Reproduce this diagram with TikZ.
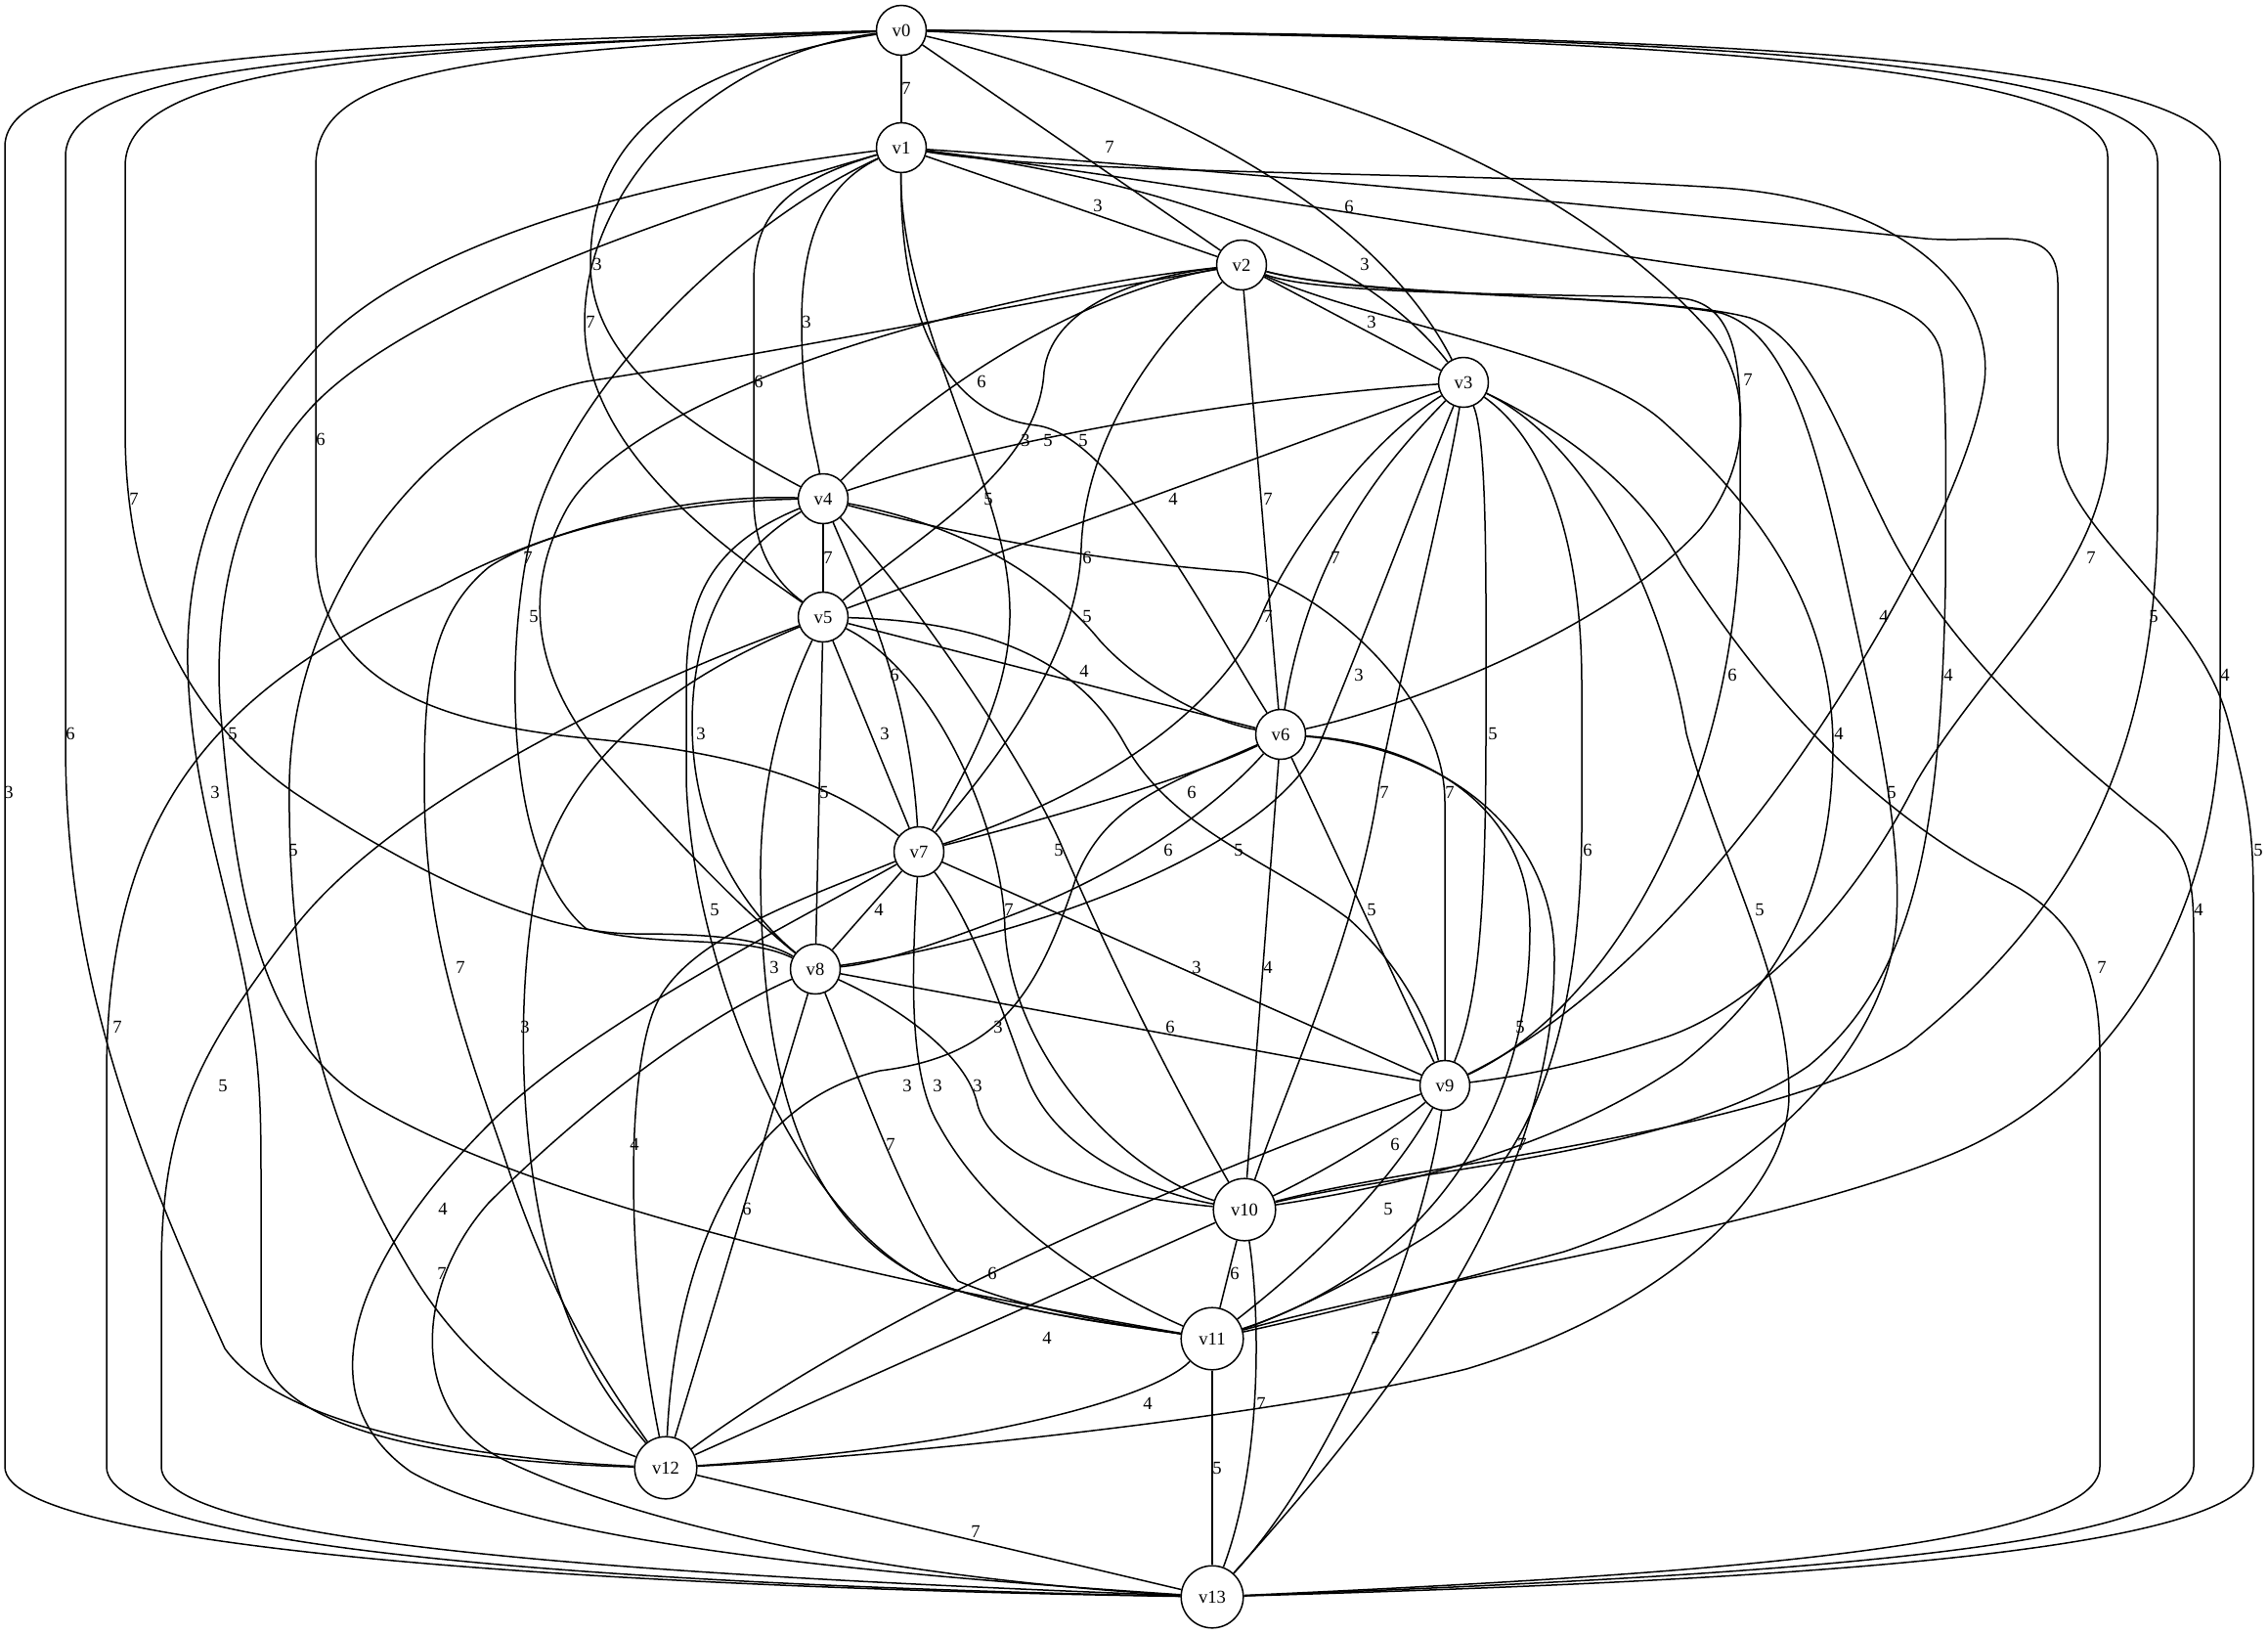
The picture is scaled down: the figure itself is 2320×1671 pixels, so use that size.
\documentclass[tikz,border=0pt]{standalone}
\usepackage{fontspec}
\setmainfont{Liberation Serif}
\newcommand\gvf{\fontsize{9.3}{11}\selectfont}
\begin{document}
\begin{tikzpicture}[x=0.5pt,y=-0.5pt,
 vtx/.style={circle,draw,line width=0.75pt,minimum size=25.5pt,inner sep=0pt,font=\gvf},
 vtxb/.style={vtx,minimum size=31.8pt},
 edge/.style={line width=0.75pt,line join=round},
 elab/.style={inner sep=0pt,font=\gvf}]
\useasboundingbox (0,0) rectangle (2320,1671);
\fill[white] (0,0) rectangle (2320,1671);
% nodes
\node[vtx] (v0) at (922,31) {v0};
\node[vtx] (v1) at (922,151) {v1};
\node[vtx] (v2) at (1270,271) {v2};
\node[vtx] (v3) at (1497,391) {v3};
\node[vtx] (v4) at (842,510) {v4};
\node[vtx] (v5) at (842,631) {v5};
\node[vtx] (v6) at (1310,751) {v6};
\node[vtx] (v7) at (940,871) {v7};
\node[vtx] (v8) at (834,991) {v8};
\node[vtx] (v9) at (1478,1110) {v9};
\node[vtxb] (v10) at (1273,1237) {v10};
\node[vtxb] (v11) at (1240,1369) {v11};
\node[vtxb] (v12) at (681,1501) {v12};
\node[vtxb] (v13) at (1240,1633) {v13};
% v0
\draw[edge] (v0) -- (v1);
\draw[edge] (v0) -- (v2);
\draw[edge] (v0) .. controls (1150,85) and (1400,200) .. (v3);
\draw[edge] (v0) .. controls (680,70) and (604,150) .. (604,270) .. controls (604,370) and (710,440) .. (v4);
\draw[edge] (v0) .. controls (730,55) and (598,190) .. (598,330) .. controls (598,460) and (740,560) .. (v5);
\draw[edge] (v0) .. controls (1300,45) and (1600,170) .. (1750,340) .. controls (1790,390) and (1795,470) .. (1740,540) .. controls (1650,640) and (1450,720) .. (v6);
\draw[edge] (v0) .. controls (480,55) and (323,70) .. (323,170) -- (323,560) .. controls (323,700) and (450,740) .. (600,755) .. controls (760,770) and (850,800) .. (v7);
\draw[edge] (v0) .. controls (400,50) and (128,65) .. (128,170) -- (128,440) .. controls (128,620) and (200,740) .. (300,810) .. controls (420,890) and (550,955) .. (650,955) .. controls (730,955) and (780,960) .. (v8);
\draw[edge] (v0) .. controls (1500,35) and (2156,50) .. (2156,160) -- (2156,450) .. controls (2156,580) and (2030,680) .. (1960,800) .. controls (1900,920) and (1800,1030) .. (1700,1062) .. controls (1620,1088) and (1560,1100) .. (v9);
\draw[edge] (v0) .. controls (1600,35) and (2207,50) .. (2207,165) -- (2207,520) .. controls (2207,800) and (2100,950) .. (1950,1070) .. controls (1800,1160) and (1450,1190) .. (v10);
\draw[edge] (v0) .. controls (1650,35) and (2271,50) .. (2271,165) -- (2271,720) .. controls (2271,950) and (2150,1120) .. (1990,1183) .. controls (1800,1260) and (1450,1310) .. (v11);
\draw[edge] (v0) .. controls (400,50) and (67,60) .. (67,160) -- (67,760) .. controls (67,1000) and (140,1180) .. (230,1379) .. controls (280,1450) and (450,1490) .. (v12);
\draw[edge] (v0) .. controls (350,45) and (5,55) .. (5,150) -- (5,1500) .. controls (5,1590) and (700,1625) .. (v13);
% v1
\draw[edge] (v1) -- (v2);
\draw[edge] (v1) .. controls (1150,180) and (1380,240) .. (v3);
\draw[edge] (v1) .. controls (840,190) and (820,250) .. (820,330) .. controls (820,420) and (835,460) .. (v4);
\draw[edge] (v1) .. controls (790,190) and (771,230) .. (771,290) -- (771,510) .. controls (771,570) and (800,600) .. (v5);
\draw[edge] (v1) .. controls (920,330) and (970,425) .. (1060,435) .. controls (1140,445) and (1240,640) .. (v6);
\draw[edge] (v1) .. controls (920,300) and (1000,450) .. (1025,560) .. controls (1045,650) and (1030,720) .. (v7);
\draw[edge] (v1) .. controls (750,230) and (580,400) .. (545,540) .. controls (515,660) and (515,880) .. (600,950) .. controls (680,970) and (760,955) .. (v8);
\draw[edge] (v1) .. controls (1100,180) and (1500,175) .. (1760,192) .. controls (1950,205) and (2040,300) .. (2030,390) .. controls (2015,500) and (1900,700) .. (1800,830) .. controls (1700,960) and (1600,1050) .. (v9);
\draw[edge] (v1) .. controls (1200,185) and (1600,255) .. (1760,276) .. controls (1900,295) and (1982,310) .. (1987,370) .. controls (1992,430) and (1990,500) .. (1990,600) .. controls (1985,850) and (1960,1000) .. (1850,1090) .. controls (1720,1180) and (1450,1195) .. (v10);
\draw[edge] (v1) .. controls (700,215) and (420,310) .. (320,415) .. controls (250,490) and (218,600) .. (225,720) .. controls (240,900) and (260,1060) .. (380,1130) .. controls (550,1230) and (900,1310) .. (v11);
\draw[edge] (v1) .. controls (650,185) and (420,250) .. (320,360) .. controls (230,460) and (190,560) .. (192,680) .. controls (195,800) and (230,900) .. (250,1000) .. controls (265,1080) and (267,1120) .. (267,1200) -- (267,1370) .. controls (267,1460) and (450,1495) .. (v12);
\draw[edge] (v1) .. controls (1200,170) and (1700,215) .. (1969,244) .. controls (2040,250) and (2105,225) .. (2105,290) -- (2105,450) .. controls (2105,540) and (2250,620) .. (2280,740) .. controls (2300,820) and (2305,850) .. (2305,920) -- (2305,1500) .. controls (2305,1590) and (1800,1617) .. (v13);
% v2
\draw[edge] (v2) -- (v3);
\draw[edge] (v2) .. controls (1100,300) and (950,400) .. (v4);
\draw[edge] (v2) .. controls (1150,285) and (1075,320) .. (1068,380) .. controls (1062,480) and (950,540) .. (v5);
\draw[edge] (v2) -- (v6);
\draw[edge] (v2) .. controls (1180,350) and (1110,450) .. (1106,560) .. controls (1103,680) and (1000,800) .. (v7);
\draw[edge] (v2) .. controls (1000,300) and (650,400) .. (580,520) .. controls (530,610) and (550,700) .. (620,780) .. controls (700,870) and (770,940) .. (v8);
\draw[edge] (v2) .. controls (1350,303) and (1600,300) .. (1720,305) .. controls (1770,310) and (1780,360) .. (1780,430) -- (1780,520) .. controls (1780,800) and (1650,1030) .. (v9);
\draw[edge] (v2) .. controls (1400,330) and (1620,360) .. (1700,430) .. controls (1800,520) and (1873,620) .. (1875,760) .. controls (1875,900) and (1830,1000) .. (1720,1088) .. controls (1600,1170) and (1450,1210) .. (v10);
\draw[edge] (v2) .. controls (1400,305) and (1650,300) .. (1760,320) .. controls (1830,340) and (1860,460) .. (1890,600) .. controls (1920,740) and (1945,850) .. (1940,940) .. controls (1930,1100) and (1750,1230) .. (1600,1280) .. controls (1450,1320) and (1350,1345) .. (v11);
\draw[edge] (v2) .. controls (1100,300) and (800,360) .. (600,390) .. controls (450,420) and (300,600) .. (296,800) .. controls (294,1000) and (330,1150) .. (420,1300) .. controls (480,1400) and (570,1460) .. (v12);
\draw[edge] (v2) .. controls (1400,305) and (1700,300) .. (1790,325) .. controls (1850,345) and (1880,440) .. (1930,540) .. controls (1990,660) and (2100,760) .. (2200,840) .. controls (2240,870) and (2244,900) .. (2244,960) -- (2244,1500) .. controls (2244,1585) and (1800,1612) .. (v13);
% v3
\draw[edge] (v3) .. controls (1300,405) and (1050,440) .. (v4);
\draw[edge] (v3) -- (v5);
\draw[edge] (v3) .. controls (1420,470) and (1340,560) .. (v6);
\draw[edge] (v3) .. controls (1400,450) and (1320,560) .. (1290,630) .. controls (1240,740) and (1100,820) .. (v7);
\draw[edge] (v3) .. controls (1460,480) and (1400,640) .. (1350,760) .. controls (1300,870) and (1050,960) .. (v8);
\draw[edge] (v3) .. controls (1522,450) and (1520,600) .. (1520,750) .. controls (1520,950) and (1510,1030) .. (v9);
\draw[edge] (v3) .. controls (1480,500) and (1430,700) .. (1411,800) .. controls (1390,950) and (1320,1100) .. (v10);
\draw[edge] (v3) .. controls (1580,450) and (1618,550) .. (1618,700) -- (1618,850) .. controls (1616,1050) and (1570,1200) .. (1450,1270) .. controls (1370,1320) and (1300,1350) .. (v11);
\draw[edge] (v3) .. controls (1620,450) and (1700,600) .. (1725,750) .. controls (1760,880) and (1830,1000) .. (1830,1120) .. controls (1830,1220) and (1700,1340) .. (1500,1400) .. controls (1300,1450) and (900,1490) .. (v12);
\draw[edge] (v3) .. controls (1600,440) and (1680,500) .. (1720,577) .. controls (1800,700) and (1900,820) .. (2050,900) .. controls (2130,940) and (2148,1000) .. (2148,1080) -- (2148,1500) .. controls (2148,1585) and (1700,1612) .. (v13);
% v4
\draw[edge] (v4) -- (v5);
\draw[edge] (v4) .. controls (1000,540) and (1080,600) .. (1125,655) .. controls (1170,705) and (1240,738) .. (v6);
\draw[edge] (v4) .. controls (880,600) and (930,700) .. (v7);
\draw[edge] (v4) .. controls (740,570) and (708,650) .. (708,740) .. controls (708,850) and (760,930) .. (v8);
\draw[edge] (v4) .. controls (1050,565) and (1200,580) .. (1270,585) .. controls (1330,590) and (1478,700) .. (1478,820) -- (v9);
\draw[edge] (v4) .. controls (950,630) and (1060,800) .. (1088,870) .. controls (1140,990) and (1200,1110) .. (v10);
\draw[edge] (v4) .. controls (720,560) and (702,620) .. (702,700) -- (702,800) .. controls (710,1000) and (820,1250) .. (950,1310) .. controls (1050,1345) and (1150,1355) .. (v11);
\draw[edge] (v4) .. controls (700,512) and (560,540) .. (500,580) .. controls (440,630) and (434,700) .. (434,800) .. controls (434,950) and (470,1050) .. (515,1180) .. controls (560,1320) and (610,1400) .. (v12);
\draw[edge] (v4) .. controls (700,505) and (560,540) .. (450,600) .. controls (230,700) and (109,820) .. (109,1100) -- (109,1500) .. controls (109,1590) and (700,1622) .. (v13);
% v5
\draw[edge] (v5) -- (v6);
\draw[edge] (v5) -- (v7);
\draw[edge] (v5) -- (v8);
\draw[edge] (v5) .. controls (1000,635) and (1100,670) .. (1150,760) .. controls (1200,850) and (1300,880) .. (1380,940) .. controls (1430,985) and (1460,1040) .. (v9);
\draw[edge] (v5) .. controls (960,690) and (1026,850) .. (1028,950) .. controls (1035,1080) and (1150,1200) .. (v10);
\draw[edge] (v5) .. controls (800,720) and (777,800) .. (778,900) .. controls (780,1100) and (820,1250) .. (950,1310) .. controls (1050,1345) and (1150,1355) .. (v11);
\draw[edge] (v5) .. controls (700,690) and (580,770) .. (550,900) .. controls (530,1000) and (528,1150) .. (560,1280) .. controls (590,1400) and (640,1450) .. (v12);
\draw[edge] (v5) .. controls (650,700) and (400,820) .. (300,950) .. controls (200,1080) and (165,1150) .. (165,1300) -- (165,1500) .. controls (165,1582) and (700,1612) .. (v13);
% v6
\draw[edge] (v6) .. controls (1230,790) and (1100,830) .. (v7);
\draw[edge] (v6) .. controls (1240,830) and (1150,890) .. (1050,930) .. controls (960,965) and (900,985) .. (v8);
\draw[edge] (v6) -- (v9);
\draw[edge] (v6) -- (v10);
\draw[edge] (v6) .. controls (1450,760) and (1565,820) .. (1565,950) .. controls (1565,1150) and (1450,1300) .. (v11);
\draw[edge] (v6) .. controls (1200,800) and (1130,820) .. (1100,900) .. controls (1060,1020) and (1020,1080) .. (900,1095) .. controls (750,1130) and (690,1300) .. (v12);
\draw[edge] (v6) .. controls (1480,765) and (1590,850) .. (1590,980) .. controls (1590,1200) and (1450,1400) .. (v13);
% v7
\draw[edge] (v7) -- (v8);
\draw[edge] (v7) -- (v9);
\draw[edge] (v7) .. controls (1000,950) and (1030,1050) .. (1050,1100) .. controls (1080,1180) and (1180,1220) .. (v10);
\draw[edge] (v7) .. controls (932,1000) and (930,1100) .. (960,1150) .. controls (1020,1260) and (1150,1330) .. (v11);
\draw[edge] (v7) .. controls (820,920) and (700,960) .. (670,1030) .. controls (640,1100) and (640,1300) .. (v12);
\draw[edge] (v7) .. controls (800,950) and (600,1050) .. (500,1150) .. controls (380,1270) and (300,1420) .. (420,1505) .. controls (550,1580) and (900,1610) .. (v13);
% v8
\draw[edge] (v8) -- (v9);
\draw[edge] (v8) .. controls (920,1030) and (990,1080) .. (1000,1130) .. controls (1020,1200) and (1150,1225) .. (v10);
\draw[edge] (v8) .. controls (870,1080) and (930,1250) .. (980,1310) .. controls (1050,1340) and (1150,1355) .. (v11);
\draw[edge] (v8) -- (v12);
\draw[edge] (v8) .. controls (720,1040) and (600,1130) .. (500,1230) .. controls (420,1320) and (420,1450) .. (520,1495) .. controls (700,1580) and (1000,1620) .. (v13);
% v9
\draw[edge] (v9) .. controls (1420,1160) and (1350,1200) .. (v10);
\draw[edge] (v9) .. controls (1440,1180) and (1380,1260) .. (v11);
\draw[edge] (v9) .. controls (1200,1210) and (900,1340) .. (v12);
\draw[edge] (v9) .. controls (1460,1250) and (1380,1480) .. (v13);
% v10 - v12
\draw[edge] (v10) -- (v11);
\draw[edge] (v10) -- (v12);
\draw[edge] (v10) .. controls (1290,1350) and (1290,1500) .. (v13);
\draw[edge] (v11) .. controls (1180,1430) and (1000,1480) .. (v12);
\draw[edge] (v11) -- (v13);
\draw[edge] (v12) -- (v13);
% labels
\node[elab] (l0x1) at (927,90) {7};
\node[elab] (l0x2) at (1135,150) {7};
\node[elab] (l0x3) at (1380,211) {6};
\node[elab] (l0x4) at (611,270) {3};
\node[elab] (l0x5) at (604,329) {7};
\node[elab] (l0x6) at (1788,388) {7};
\node[elab] (l0x7) at (328,449) {6};
\node[elab] (l0x8) at (137,510) {7};
\node[elab] (l0x9) at (2139,570) {7};
\node[elab] (l0x10) at (2203,630) {5};
\node[elab] (l0x11) at (2276,690) {4};
\node[elab] (l0x12) at (72,750) {6};
\node[elab] (l0x13) at (9,810) {3};
\node[elab] (l1x2) at (1123,210) {3};
\node[elab] (l1x3) at (1396,270) {3};
\node[elab] (l1x4) at (825,329) {3};
\node[elab] (l1x5) at (776,390) {6};
\node[elab] (l1x6) at (1108,450) {5};
\node[elab] (l1x7) at (1011,510) {5};
\node[elab] (l1x8) at (540,570) {7};
\node[elab] (l1x9) at (1927,630) {4};
\node[elab] (l1x10) at (1993,690) {4};
\node[elab] (l1x11) at (238,750) {5};
\node[elab] (l1x12) at (220,810) {3};
\node[elab] (l1x13) at (2310,869) {5};
\node[elab] (l2x3) at (1403,329) {3};
\node[elab] (l2x4) at (1004,390) {6};
\node[elab] (l2x5) at (1072,450) {5};
\node[elab] (l2x6) at (1297,510) {7};
\node[elab] (l2x7) at (1112,570) {6};
\node[elab] (l2x8) at (546,630) {5};
\node[elab] (l2x9) at (1772,690) {6};
\node[elab] (l2x10) at (1881,750) {4};
\node[elab] (l2x11) at (1935,810) {5};
\node[elab] (l2x12) at (300,869) {5};
\node[elab] (l2x13) at (2249,930) {4};
\node[elab] (l3x4) at (1049,450) {3};
\node[elab] (l3x5) at (1200,510) {4};
\node[elab] (l3x6) at (1366,570) {7};
\node[elab] (l3x7) at (1297,630) {7};
\node[elab] (l3x8) at (1390,690) {3};
\node[elab] (l3x9) at (1527,750) {5};
\node[elab] (l3x10) at (1416,810) {7};
\node[elab] (l3x11) at (1624,869) {6};
\node[elab] (l3x12) at (1800,930) {5};
\node[elab] (l3x13) at (2150,989) {7};
\node[elab] (l4x5) at (847,570) {7};
\node[elab] (l4x6) at (1112,630) {5};
\node[elab] (l4x7) at (915,690) {6};
\node[elab] (l4x8) at (717,750) {3};
\node[elab] (l4x9) at (1483,810) {7};
\node[elab] (l4x10) at (1083,869) {5};
\node[elab] (l4x11) at (731,930) {5};
\node[elab] (l4x12) at (471,989) {7};
\node[elab] (l4x13) at (120,1050) {7};
\node[elab] (l5x6) at (1109,686) {4};
\node[elab] (l5x7) at (905,750) {3};
\node[elab] (l5x8) at (843,810) {5};
\node[elab] (l5x9) at (1267,869) {5};
\node[elab] (l5x10) at (1032,930) {7};
\node[elab] (l5x11) at (792,989) {3};
\node[elab] (l5x12) at (537,1050) {3};
\node[elab] (l5x13) at (228,1110) {5};
\node[elab] (l6x7) at (1219,810) {6};
\node[elab] (l6x8) at (1195,869) {6};
\node[elab] (l6x9) at (1403,930) {5};
\node[elab] (l6x10) at (1297,989) {4};
\node[elab] (l6x11) at (1555,1050) {5};
\node[elab] (l6x12) at (928,1110) {3};
\node[elab] (l6x13) at (1557,1170) {7};
\node[elab] (l7x8) at (899,930) {4};
\node[elab] (l7x9) at (1224,989) {3};
\node[elab] (l7x10) at (1021,1050) {3};
\node[elab] (l7x11) at (959,1110) {3};
\node[elab] (l7x12) at (649,1170) {4};
\node[elab] (l7x13) at (453,1236) {4};
\node[elab] (l8x9) at (1197,1050) {6};
\node[elab] (l8x10) at (1000,1110) {3};
\node[elab] (l8x11) at (911,1170) {7};
\node[elab] (l8x12) at (764,1236) {6};
\node[elab] (l8x13) at (452,1302) {7};
\node[elab] (l9x10) at (1427,1170) {6};
\node[elab] (l9x11) at (1420,1236) {5};
\node[elab] (l9x12) at (1015,1302) {6};
\node[elab] (l9x13) at (1407,1368) {7};
\node[elab] (l10x11) at (1263,1302) {6};
\node[elab] (l10x12) at (1071,1368) {4};
\node[elab] (l10x13) at (1290,1435) {7};
\node[elab] (l11x12) at (1174,1435) {4};
\node[elab] (l11x13) at (1245,1501) {5};
\node[elab] (l12x13) at (998,1566) {7};
\end{tikzpicture}
\end{document}
